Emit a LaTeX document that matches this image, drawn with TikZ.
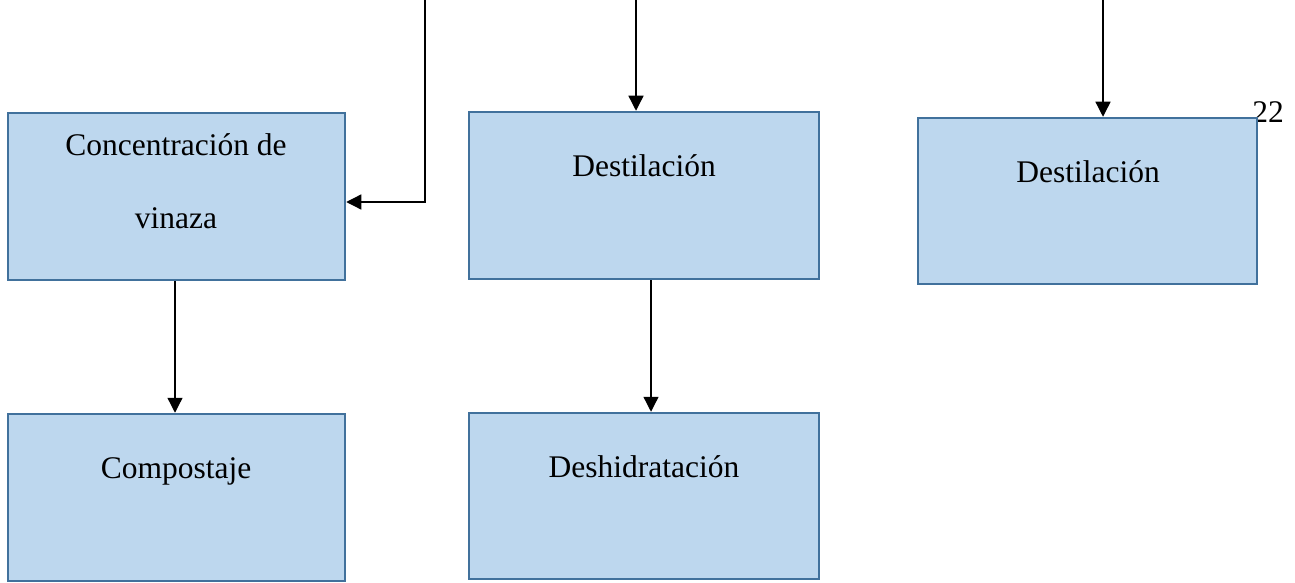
\documentclass[tikz,border=0pt]{standalone}
\usepackage{fontspec}
\setmainfont{Liberation Serif}
\usetikzlibrary{arrows.meta}
\definecolor{boxfill}{HTML}{BDD7EE}
\definecolor{boxline}{HTML}{41719C}
\begin{document}
\begin{tikzpicture}[x=1pt,y=-1pt,
  procbox/.style={draw=boxline,fill=boxfill,line width=2.5pt,rectangle,inner sep=0pt},
  lbl/.style={anchor=base,inner sep=0pt,font=\fontsize{31.5}{38}\selectfont},
  arr/.style={line width=1.3pt,-{Triangle[length=15pt,width=15pt]}}]
\useasboundingbox (0,0) rectangle (1295,583);
\node[lbl] (pg) at (1268,123) {22};
\node[procbox,minimum width=337pt,minimum height=167pt] (b1) at (176.5,196.5) {};
\node[procbox,minimum width=350pt,minimum height=167pt] (b2) at (644,195.5) {};
\node[procbox,minimum width=339pt,minimum height=166pt] (b3) at (1087.5,201) {};
\node[procbox,minimum width=337pt,minimum height=167pt] (b4) at (176.5,497.5) {};
\node[procbox,minimum width=350pt,minimum height=166pt] (b5) at (644,496) {};
\node[lbl] (l1a) at (176,155) {Concentración de};
\node[lbl] (l1b) at (176,228) {vinaza};
\node[lbl] (l2) at (644,176) {Destilación};
\node[lbl] (l3) at (1088,182) {Destilación};
\node[lbl] (l4) at (176,478) {Compostaje};
\node[lbl] (l5) at (644,477) {Deshidratación};
\coordinate (t1) at (425,0);
\coordinate (t2) at (636,0);
\coordinate (t3) at (1103,0);
\draw[arr] (t1) |- ([yshift=-5.5pt]b1.east);
\draw[arr] (t2) -- (t2 |- b2.north);
\draw[arr] (t3) -- (t3 |- b3.north);
\draw[arr] ([xshift=-1.5pt]b1.south) -- ([xshift=-1.5pt]b4.north);
\draw[arr] ([xshift=7pt]b2.south) -- ([xshift=7pt]b5.north);
\end{tikzpicture}
\end{document}
